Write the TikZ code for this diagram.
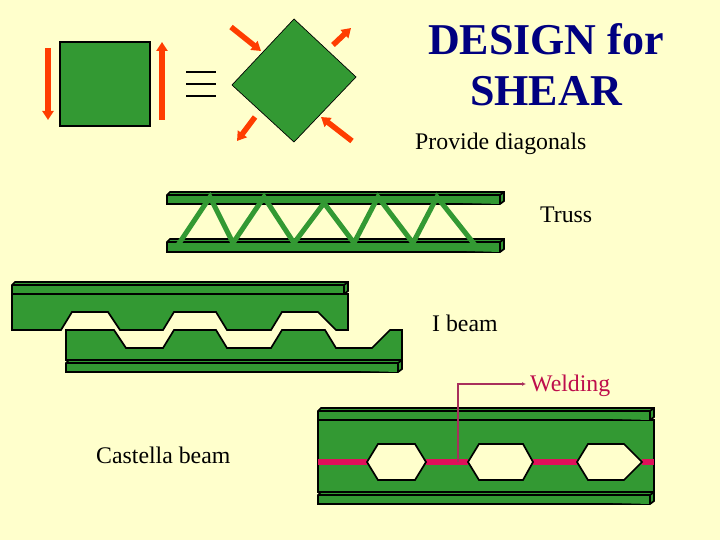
\documentclass[tikz,border=0pt]{standalone}
\usepackage{fontspec}
\usepackage{xcolor}
\setmainfont{Liberation Serif}
\usetikzlibrary{arrows.meta}

\definecolor{paper}{HTML}{FFFFCC}
\definecolor{steel}{HTML}{339933}
\definecolor{force}{HTML}{FF3D00}
\definecolor{weld}{HTML}{E0105A}
\definecolor{leader}{HTML}{A8305C}
\definecolor{titleblue}{HTML}{000080}

\tikzset{
  beam/.style={draw=black, fill=steel, line width=1.7pt, line join=miter},
  forcearrow/.style={force, line width=5.5pt, -{Triangle[width=11pt,length=9pt]}},
  strut/.style={steel, line width=5pt},
  seam/.style={weld, line width=5.5pt},
  caption/.style={font=\fontsize{23.8}{27}\selectfont, inner sep=0pt}
}

% left, right, top, bottom
\newcommand{\flange}[4]{
  \draw[beam] (#1,#3+3) -- (#1+3,#3) -- (#2,#3) -- (#2,#4-3) -- (#2-4,#4) -- (#1,#4) -- cycle;
  \draw[beam] (#1,#3+3) -- (#2-4,#3+3) -- (#2-4,#4) (#2-4,#3+3) -- (#2,#3);
}

\begin{document}
\begin{tikzpicture}[x=1pt, y=-1pt]
  \fill[paper] (0,0) rectangle (720,540);
  \useasboundingbox (0,0) rectangle (720,540);

  % square and diamond
  \draw[beam, line width=1.8pt] (60,42) rectangle (150,126);
  \draw[forcearrow] (48,48) -- (48,120);
  \draw[forcearrow] (162,120) -- (162,42);
  \draw[line width=2pt] (186,72) -- (216,72) (186,84) -- (216,84) (186,96) -- (216,96);
  \draw[beam, line width=0.7pt] (294,19) -- (356,77) -- (294,142) -- (232,85) -- cycle;
  \draw[forcearrow] (231,27) -- (261,51);
  \draw[forcearrow] (333,45) -- (351,28);
  \draw[forcearrow] (255,117) -- (237,141);
  \draw[forcearrow] (352,141) -- (321,117);

  \node[font=\fontsize{44}{51}\selectfont\bfseries, text=titleblue, align=center, inner sep=0pt] (title) at (546,65) {DESIGN for\\SHEAR};
  \node[caption, anchor=west] (provide) at (415,144) {Provide diagonals};

  % truss
  \flange{167}{504}{192}{204}
  \flange{167}{504}{239}{252}
  \draw[strut] (178,245) -- (210,197) -- (233,243) -- (264,197) -- (294,243) -- (324,203)
    -- (354,243) -- (378,197) -- (413,243) -- (437,197) -- (475,245);
  \node[caption, anchor=west] (truss) at (540,215) {Truss};

  % I beam, upper half
  \flange{12}{348}{282}{294}
  \draw[beam] (12,294) -- (12,330) -- (61,330) -- (72,312) -- (108,312) -- (120,330) -- (163,330) -- (174,312)
    -- (216,312) -- (227,330) -- (271,330) -- (282,312) -- (318,312) -- (336,330) -- (348,330) -- (348,294) -- cycle;

  % I beam, lower half
  \draw[beam] (66,330) -- (114,330) -- (126,348) -- (163,348) -- (174,330) -- (216,330) -- (227,348) -- (271,348)
    -- (282,330) -- (325,330) -- (336,348) -- (372,348) -- (390,330) -- (402,330) -- (402,360) -- (66,360) -- cycle;
  \flange{66}{402}{360}{372}
  \node[caption, anchor=west] (ibeam) at (432,323) {I beam};

  % castella beam
  \draw[beam] (318,420) rectangle (654,492);
  \flange{318}{654}{408}{420}
  \flange{318}{654}{492}{504}
  \draw[seam] (318,462) -- (367,462) (426,462) -- (468,462) (533,462) -- (577,462) (642,462) -- (654,462);
  \draw[beam, fill=paper] (367,462) -- (378,444) -- (415,444) -- (426,462) -- (415,480) -- (378,480) -- cycle;
  \draw[beam, fill=paper] (468,462) -- (479,444) -- (523,444) -- (533,462) -- (523,480) -- (479,480) -- cycle;
  \draw[beam, fill=paper] (577,462) -- (588,444) -- (624,444) -- (642,462) -- (624,480) -- (588,480) -- cycle;
  \node[caption, anchor=west] (castella) at (96,455) {Castella beam};

  % welding label
  \node[caption, anchor=west, text=weld!85!black] (welding) at (530,386) {Welding};
  \coordinate (joint) at (458,462);
  \draw[leader, line width=1.6pt, -{Latex[length=4pt,width=4pt]}] (joint) |- ([xshift=-4pt,yshift=2pt]welding.west);
\end{tikzpicture}
\end{document}
